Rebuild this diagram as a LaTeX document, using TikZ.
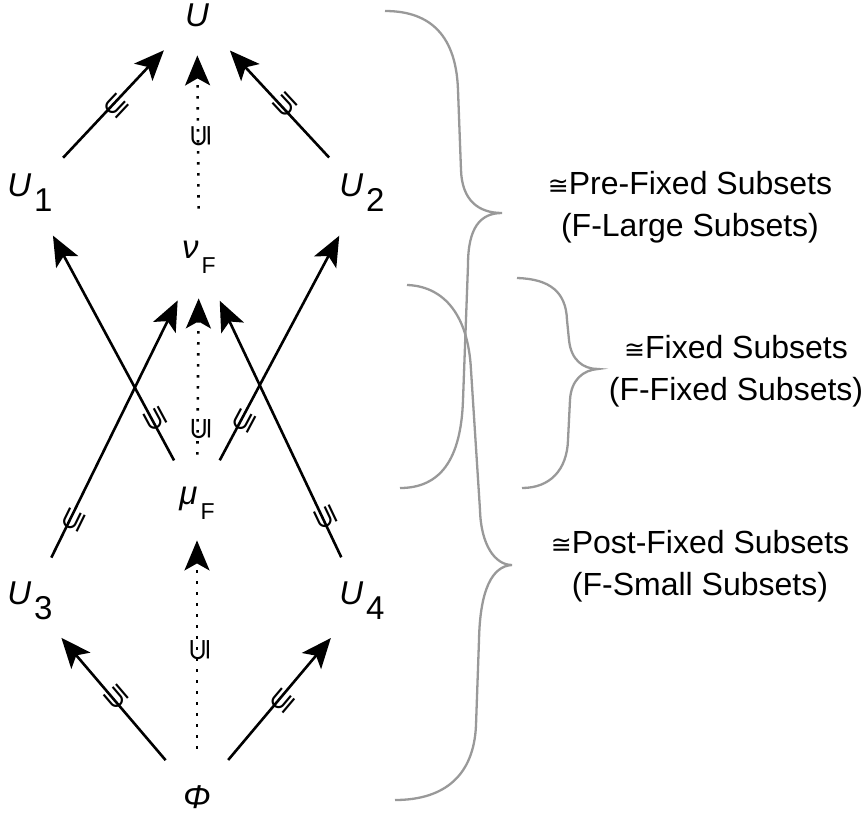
\documentclass[tikz,border=0pt]{standalone}
\usepackage{fontspec}
\setmainfont{Liberation Sans}
\newfontfamily\dejavu{DejaVu Sans}
\usetikzlibrary{arrows.meta}
\newcommand{\lowsub}[1]{\kern1.5pt\raisebox{-7.5pt}{\upshape #1}}
\newcommand{\incsym}{\raisebox{-0.42em}[0pt][0pt]{\dejavu ⊆}}
\newcommand{\isoq}{{\dejavu\fontsize{12.5}{12}\selectfont ≅}}

\begin{document}
\begin{tikzpicture}[x=0.5pt, y=-0.5pt,
    main/.style = {circle, minimum size=48pt, inner sep=0pt, font=\fontsize{16.5}{20}\selectfont\itshape},
    arr/.style = {-{Stealth[length=15pt, width=12.5pt, inset=3.5pt]}, line width=1.3pt},
    dots/.style = {arr, dash pattern=on 1.3pt off 4.2pt},
    incl/.style = {sloped, allow upside down, inner sep=0pt, font=\fontsize{15}{15}\selectfont},
    brace/.style = {draw=black!40, line width=1.15pt},
    note/.style = {align=center, font=\fontsize{16}{21}\selectfont}]
    \useasboundingbox (0,0) rectangle (867,814);
    \node[main] (U) at (197,15) {U};
    \node[main] (U1) at (30,193) {U\lowsub{1}};
    \node[main] (U2) at (362,193) {U\lowsub{2}};
    \node[main] (nuF) at (199,257) {ν\lowsub{\fontsize{11.5}{12}\selectfont F}};
    \node[main] (muF) at (197,503) {μ\lowsub{\fontsize{11.5}{12}\selectfont F}};
    \node[main] (U3) at (30,601) {U\lowsub{3}};
    \node[main] (U4) at (362,601) {U\lowsub{4}};
    \node[main] (Phi) at (197,797) {Φ};
    \draw[arr] (U1) -- node[incl, pos=.5] {\incsym} (U);
    \draw[arr] (U2) -- node[incl, pos=.47] {\incsym} (U);
    \draw[dots, shorten >=-4pt] (nuF) -- node[incl] {\incsym} (U);
    \draw[arr] (muF) -- node[incl, pos=.18] {\incsym} (U1);
    \draw[arr] (muF) -- node[incl, pos=.18] {\incsym} (U2);
    \draw[dots, shorten >=-3.5pt] (muF) -- node[incl, pos=.17] {\incsym} (nuF);
    \draw[arr] (U3) -- node[incl, pos=.15] {\incsym} (nuF);
    \draw[arr] (U4) -- node[incl, pos=.15] {\incsym} (nuF);
    \draw[dots, shorten >=-5.5pt] (Phi) -- node[incl] {\incsym} (muF);
    \draw[arr] (Phi) -- node[incl] {\incsym} (U3);
    \draw[arr] (Phi) -- node[incl] {\incsym} (U4);
    \draw[brace] (385,11) .. controls (425,11) and (456,30) .. (458,90) -- (461,170)
        .. controls (462,200) and (478,213) .. (502,213)
        .. controls (480,213) and (468,228) .. (468,265) -- (463,400)
        .. controls (461,460) and (440,488) .. (400,488);
    \draw[brace] (517,278) .. controls (550,279) and (566,292) .. (567,320) -- (569,340)
        .. controls (571,360) and (583,369) .. (598,369)
        .. controls (583,370) and (571,380) .. (570,400) -- (568,440)
        .. controls (567,470) and (550,488) .. (522,488);
    \draw[brace] (407,285) .. controls (440,286) and (468,310) .. (471,370) -- (480,510)
        .. controls (481,545) and (495,565) .. (512,565)
        .. controls (492,566) and (480,590) .. (479,640) -- (476,725)
        .. controls (474,775) and (445,800) .. (395,800);
    \node[note] (pre) at (690,207) {\isoq Pre-Fixed Subsets\\(F-Large Subsets)};
    \node[note] (fix) at (736,371) {\isoq Fixed Subsets\\(F-Fixed Subsets)};
    \node[note] (post) at (700,566) {\isoq Post-Fixed Subsets\\(F-Small Subsets)};
\end{tikzpicture}
\end{document}
